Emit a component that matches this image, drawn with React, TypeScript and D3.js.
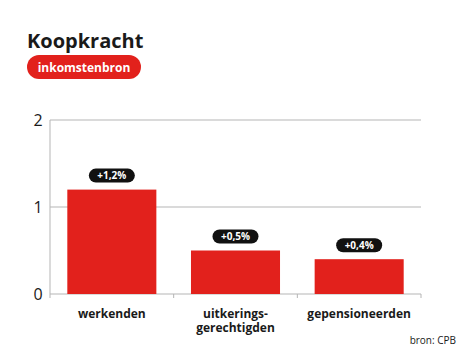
import React from "react";
import * as d3 from "d3";

const categories = ["werkenden", "uitkerings-\ngerechtigden", "gepensioneerden"];
const values = [1.2, 0.5, 0.4];
const valueLabels = ["+1,2%", "+0,5%", "+0,4%"];
const yTicks = [0, 1, 2];

const W = 474, H = 355;
const RED = "#e2211c";
const FONT = "'Open Sans', 'Noto Sans', sans-serif";

export default function App() {
  const x = d3.scaleBand<string>().domain(categories).range([50, 421]).paddingInner(0.28).paddingOuter(0.14);
  const y = d3.scaleLinear().domain([0, 2]).range([294, 120]);
  const step = x.step();
  const edges = [50, ...categories.map((c) => (x(c) as number) - x.paddingInner() * step / 2 + step)];
  return (
    <svg width={W} height={H} style={{ position: "absolute", left: 0, top: 0, background: "#fff" }} fontFamily={FONT}>
      <text x={27} y={48} fontSize={20} fontWeight={700} fill="#1a1a1a">Koopkracht</text>
      <rect x={27} y={55} width={114} height={24} rx={12} fill={RED} />
      <text x={84} y={71.5} fontSize={12} fontWeight={700} fill="#fff" textAnchor="middle">inkomstenbron</text>

      {yTicks.map((t) => (
        <g key={t}>
          <line x1={50} x2={421} y1={y(t)} y2={y(t)} stroke="#b5b5b5" strokeWidth={1} />
          <text x={38} y={y(t) + 6} fontSize={16} fill="#1a1a1a" textAnchor="middle">{t}</text>
        </g>
      ))}
      <line x1={50} x2={50} y1={y(2)} y2={y(0)} stroke="#b5b5b5" strokeWidth={1} />
      {edges.map((e, i) => (
        <line key={i} x1={e} x2={e} y1={y(0)} y2={y(0) + 4} stroke="#b5b5b5" strokeWidth={1} />
      ))}

      {categories.map((c, i) => {
        const bx = x(c) as number;
        const bw = x.bandwidth();
        const cx = bx + bw / 2;
        const top = y(values[i]);
        const lines = c.split("\n");
        return (
          <g key={c}>
            <rect x={bx} y={top} width={bw} height={y(0) - top} fill={RED} />
            <rect x={cx - 23} y={top - 21} width={46} height={14} rx={7} fill="#111" />
            <text x={cx} y={top - 10.5} fontSize={10} fontWeight={700} fill="#fff" textAnchor="middle">{valueLabels[i]}</text>
            <text x={cx} y={318} fontSize={12} fontWeight={700} fill="#1a1a1a" textAnchor="middle">
              {lines.map((l, j) => (
                <tspan key={j} x={cx} dy={j === 0 ? 0 : 13.5}>{l}</tspan>
              ))}
            </text>
          </g>
        );
      })}
      <text x={456} y={344} fontSize={10} fill="#1a1a1a" textAnchor="end">bron: CPB</text>
    </svg>
  );
}
